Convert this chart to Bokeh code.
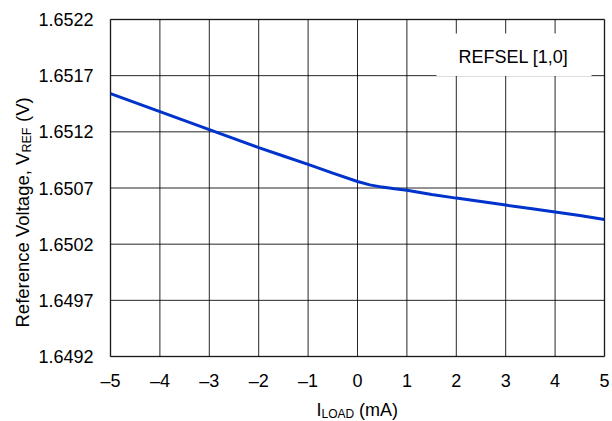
import math
from bokeh.plotting import figure
from bokeh.models import Label, BoxAnnotation, Range1d
from bokeh.core.properties import value
from bokeh.embed import file_html
from bokeh.resources import INLINE

# ---- data ----
current_mA = [-5, -4.5, -4, -3.5, -3, -2.5, -2, -1.5, -1, -0.5, 0, 0.25, 0.5, 0.75, 1,
              1.5, 2, 2.5, 3, 3.5, 4, 4.5, 5]
vref_V = [1.65154, 1.65146, 1.65138, 1.65130, 1.65122, 1.65114, 1.65106, 1.650985,
          1.65091, 1.650832, 1.650758, 1.650728, 1.650708, 1.650693, 1.650680,
          1.650643, 1.650610, 1.650579, 1.650548, 1.650517, 1.650486, 1.650455,
          1.650420]
x_ticks = [-5, -4, -3, -2, -1, 0, 1, 2, 3, 4, 5]
y_ticks = [1.6492, 1.6497, 1.6502, 1.6507, 1.6512, 1.6517, 1.6522]
x_tick_labels = [("\u2013" + str(abs(t))) if t < 0 else str(t) for t in x_ticks]
y_tick_labels = [f"{t:.4f}" for t in y_ticks]
legend_text = "REFSEL [1,0]"

FONT = "Liberation Sans"
FS = "18px"
SUB = "12px"
YFS = "18.5px"
YSUB = "12.5px"

# ---- layout (canvas pixels) ----
W, H = 610, 421
FL, FT, FR, FB = 110, 19, 604, 356          # plot-area edges on the canvas
X0, X1 = x_ticks[0], x_ticks[-1]
Y0, Y1 = y_ticks[0], y_ticks[-1]
sx = (FR - FL) / (X1 - X0)                  # px per mA
sy = (FB - FT) / (Y1 - Y0)                  # px per V

def dx(px):
    return X0 + (px - FL) / sx

def dy(py):
    return Y0 + (FB - py) / sy

# the frame spans the whole canvas so that titles outside the plot area are not clipped
p = figure(width=W, height=H, output_backend="svg", toolbar_location=None,
           x_axis_type=None, y_axis_type=None,
           x_range=Range1d(dx(0), dx(W)), y_range=Range1d(dy(H), dy(0)),
           min_border=0, min_border_left=0, min_border_right=0,
           min_border_top=0, min_border_bottom=0)
p.outline_line_color = None
p.background_fill_color = "white"
p.border_fill_color = "white"
p.xgrid.visible = False
p.ygrid.visible = False

# grid lines at the ticks
grid_kw = dict(line_color="black", line_alpha=0.85, line_width=1)
p.segment(x0=x_ticks, x1=x_ticks, y0=[Y0] * len(x_ticks), y1=[Y1] * len(x_ticks), **grid_kw)
p.segment(x0=[X0] * len(y_ticks), x1=[X1] * len(y_ticks), y0=y_ticks, y1=y_ticks, **grid_kw)

# data curve
p.line(current_mA, vref_V, line_color="#0033CC", line_width=3)

# plot-area outline
p.add_layout(BoxAnnotation(left=X0, right=X1, bottom=Y0, top=Y1, fill_color=None,
                           fill_alpha=0, line_color="black", line_width=2))

# tick labels
p.text(x=[dx(FL - 17)] * len(y_ticks), y=y_ticks, text=y_tick_labels,
       text_font=value(FONT), text_font_size=value(FS), text_color="black",
       text_align="right", text_baseline="middle")
p.text(x=x_ticks, y=[dy(FB + 24)] * len(x_ticks), text=x_tick_labels,
       text_font=value(FONT), text_font_size=value(FS), text_color="black",
       text_align="center", text_baseline="middle")

# legend-like box
p.add_layout(BoxAnnotation(left=dx(436), right=dx(591), bottom=dy(75.5), top=dy(33),
                           fill_color="white", fill_alpha=1.0, line_color=None))
p.add_layout(Label(x=dx(513), y=dy(56), text=legend_text, text_font=FONT,
                   text_font_size=FS, text_align="center", text_baseline="middle",
                   text_color="black"))

common = dict(text_font=FONT, text_color="black", text_baseline="alphabetic",
              text_align="left")

# x axis title  I_LOAD (mA)
p.add_layout(Label(x=dx(316), y=dy(409), text="I", text_font_size=FS, **common))
p.add_layout(Label(x=dx(321), y=dy(413), text="LOAD", text_font_size=SUB, **common))
p.add_layout(Label(x=dx(358.5), y=dy(409), text="(mA)", text_font_size=FS, **common))

# y axis title  Reference Voltage, V_REF (V)
ang = math.pi / 2
p.add_layout(Label(x=dx(22), y=dy(327), angle=ang, text="Reference Voltage, V",
                   text_font_size=YFS, **common))
p.add_layout(Label(x=dx(26), y=dy(152), angle=ang, text="REF",
                   text_font_size=YSUB, **common))
p.add_layout(Label(x=dx(22), y=dy(121.5), angle=ang, text="(V)",
                   text_font_size=YFS, **common))

open("out.html", "w").write(file_html(p, INLINE))
